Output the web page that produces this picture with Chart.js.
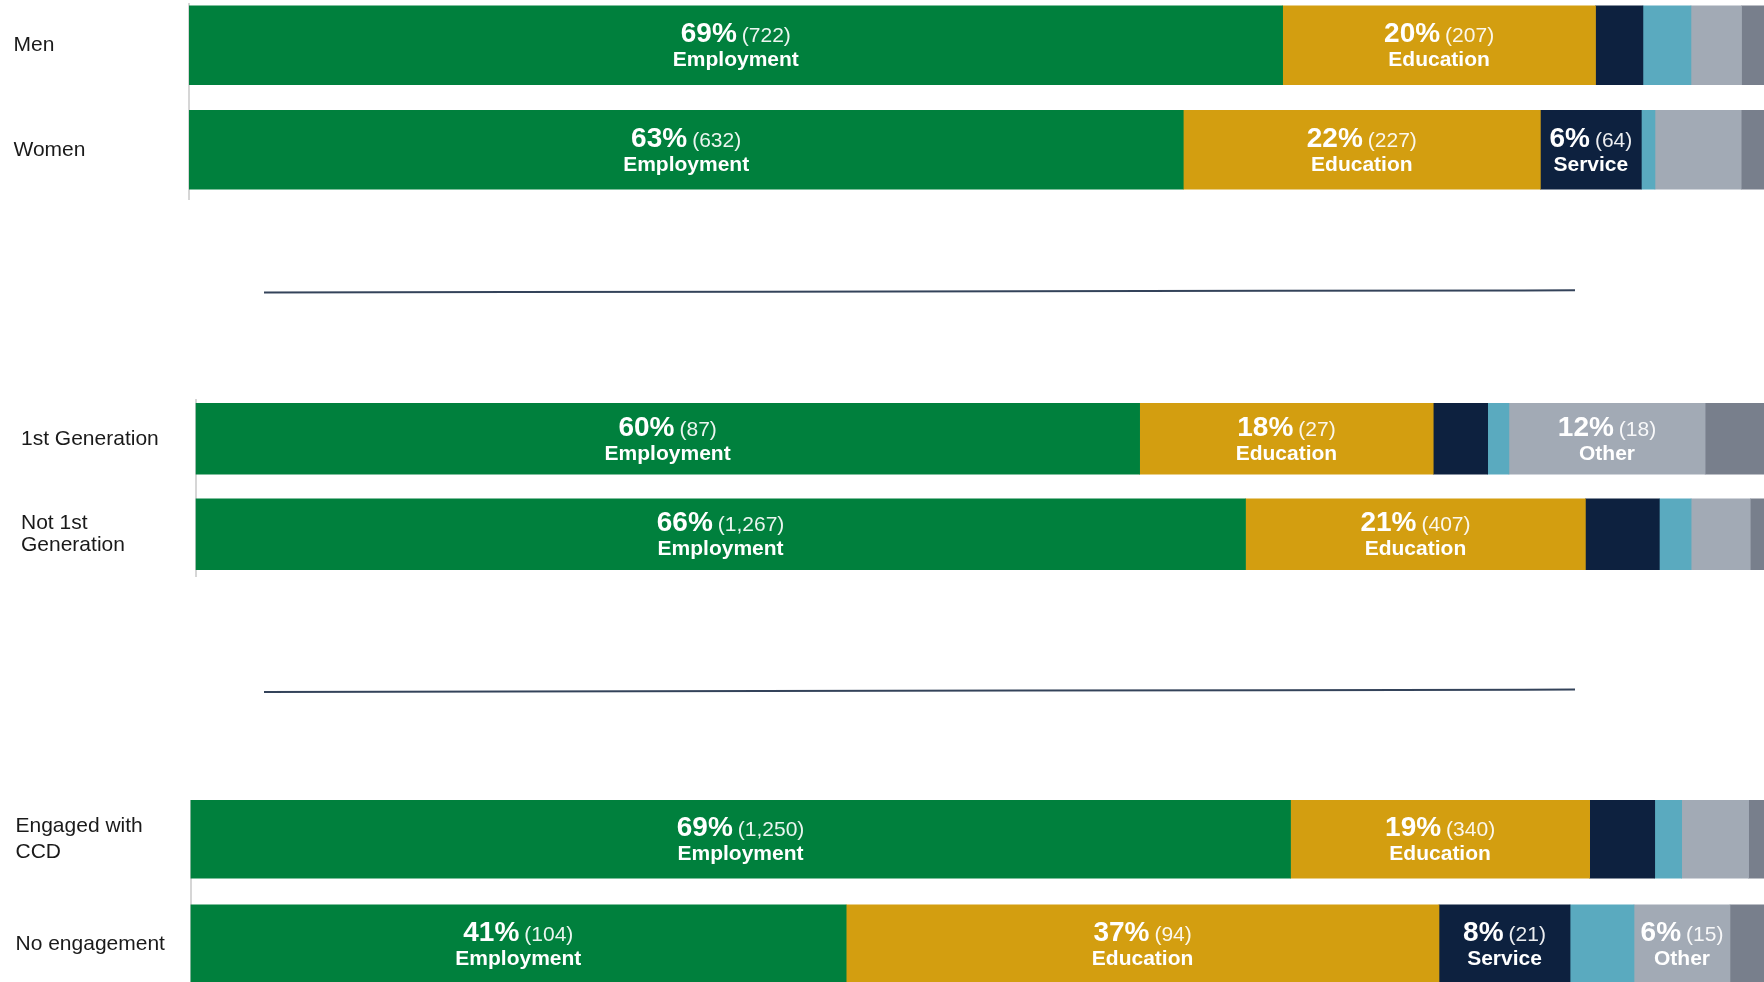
<!DOCTYPE html>
<html>
<head>
<meta charset="utf-8">
<script src="https://cdn.jsdelivr.net/npm/chart.js@4/dist/chart.umd.min.js"></script>
<style>
  html, body { margin: 0; padding: 0; background: #fff; overflow: hidden; }
  #page { position: relative; width: 1764px; height: 982px; overflow: hidden; }
  .grp { position: absolute; left: 0; width: 1764px; overflow: hidden; }
  .grp canvas { position: absolute; left: 0; }
  svg { position: absolute; left: 0; top: 0; }
</style>
</head>
<body>
<div id="page">
  <svg width="1764" height="982">
    <line x1="264" y1="292.5" x2="1575" y2="290.3" stroke="#34435a" stroke-width="2"/>
    <line x1="264" y1="691.9" x2="1575" y2="689.6" stroke="#34435a" stroke-width="2"/>
  </svg>
</div>
<script>
// categories (one per bar)
const categorias = ['Men', 'Women', '1st Generation', ['Not 1st', 'Generation'], ['Engaged with', 'CCD'], 'No engagement'];

// share of each bar (%)
const empleo    = [69.0, 62.73, 60.0, 66.73, 68.99, 41.12];
const educacion = [19.74, 22.53, 18.66, 21.6, 18.76, 37.18];
const servicio  = [2.99, 6.37, 3.46, 4.70, 4.08, 8.22];
const turquesa  = [3.03, 0.86, 1.35, 2.02, 1.69, 4.01];
const otro      = [3.19, 5.44, 12.47, 3.76, 4.20, 6.02];
const gris      = [2.05, 2.07, 4.06, 1.19, 2.28, 3.47];

// printed labels (null = no label on that segment)
const empleoPct    = ['69%', '63%', '60%', '66%', '69%', '41%'];
const empleoN      = ['(722)', '(632)', '(87)', '(1,267)', '(1,250)', '(104)'];
const educacionPct = ['20%', '22%', '18%', '21%', '19%', '37%'];
const educacionN   = ['(207)', '(227)', '(27)', '(407)', '(340)', '(94)'];
const servicioPct  = [null, '6%', null, null, null, '8%'];
const servicioN    = [null, '(64)', null, null, null, '(21)'];
const otroPct      = [null, null, '12%', null, null, '6%'];
const otroN        = [null, null, '(18)', null, null, '(15)'];

const series = [
  {nombre: 'Employment', data: empleo,    color: '#00803d', pct: empleoPct,    n: empleoN},
  {nombre: 'Education',  data: educacion, color: '#d39e10', pct: educacionPct, n: educacionN},
  {nombre: 'Service',    data: servicio,  color: '#0d213f', pct: servicioPct,  n: servicioN},
  {nombre: '',           data: turquesa,  color: '#5aaabf', pct: null,         n: null},
  {nombre: 'Other',      data: otro,      color: '#a2aab5', pct: otroPct,      n: otroN},
  {nombre: '',           data: gris,      color: '#787f8c', pct: null,         n: null}
];

// three panels, each with two bars
const grupos = [
  {filas: [0, 1], left: 189,   right: 1774,   top: -6.8,  alto: 209.3, clipTop: 3,   clipBottom: 200, grosor: 79, labelX: 13.5, lh: 1.1},
  {filas: [2, 3], left: 195.6, right: 1768.6, top: 390.8, alto: 190.5, clipTop: 399, clipBottom: 577, grosor: 71, labelX: 21,   lh: 1.05},
  {filas: [4, 5], left: 190.5, right: 1784.5, top: 786.7, alto: 208.6, clipTop: 800, clipBottom: 982, grosor: 78, labelX: 15.5, lh: 1.2}
];

const FUENTE = '"Liberation Sans", Arial, sans-serif';

const etiquetas = {
  id: 'etiquetas',
  afterDatasetsDraw(chart, args, opts) {
    const ctx = chart.ctx;
    const filas = opts.filas;
    ctx.save();
    chart.data.datasets.forEach((ds, i) => {
      const s = series[i];
      if (!s.pct) return;
      const meta = chart.getDatasetMeta(i);
      meta.data.forEach((el, j) => {
        const fila = filas[j];
        const pct = s.pct[fila];
        if (!pct) return;
        const cx = (el.x + el.base) / 2;
        const cy = el.y;
        ctx.fillStyle = '#ffffff';
        ctx.textBaseline = 'alphabetic';
        ctx.font = 'bold 28px ' + FUENTE;
        const w1 = ctx.measureText(pct).width;
        ctx.font = '21px ' + FUENTE;
        const w2 = ctx.measureText(s.n[fila]).width;
        const x0 = cx - (w1 + 5 + w2) / 2;
        ctx.textAlign = 'left';
        ctx.font = 'bold 28px ' + FUENTE;
        ctx.fillText(pct, x0, cy - 3);
        ctx.font = '21px ' + FUENTE;
        ctx.fillStyle = 'rgba(255,255,255,0.92)';
        ctx.fillText(s.n[fila], x0 + w1 + 5, cy - 3);
        ctx.fillStyle = '#ffffff';
        ctx.textAlign = 'center';
        ctx.font = 'bold 21px ' + FUENTE;
        ctx.fillText(s.nombre, cx, cy + 21);
      });
    });
    ctx.restore();
  }
};

const pagina = document.getElementById('page');

grupos.forEach(g => {
  const caja = document.createElement('div');
  caja.className = 'grp';
  caja.style.top = g.clipTop + 'px';
  caja.style.height = (g.clipBottom - g.clipTop) + 'px';
  const canvas = document.createElement('canvas');
  const ancho = Math.round(g.right);
  const alto = Math.round(g.alto);
  canvas.width = ancho;
  canvas.height = alto;
  canvas.style.width = ancho + 'px';
  canvas.style.height = alto + 'px';
  canvas.style.top = (g.top - g.clipTop) + 'px';
  caja.appendChild(canvas);
  pagina.appendChild(caja);

  new Chart(canvas.getContext('2d'), {
    type: 'bar',
    data: {
      labels: g.filas.map(f => categorias[f]),
      datasets: series.map(s => ({
        label: s.nombre,
        data: g.filas.map(f => s.data[f]),
        backgroundColor: s.color,
        borderWidth: 0,
        barThickness: g.grosor
      }))
    },
    options: {
      indexAxis: 'y',
      responsive: false,
      animation: false,
      layout: {padding: {left: g.labelX, right: 0, top: 0, bottom: 0}},
      scales: {
        x: {stacked: true, display: false, min: 0, max: 100},
        y: {
          stacked: true,
          grid: {display: false, drawTicks: false},
          border: {display: true, color: '#d6d6d6', width: 2},
          ticks: {
            crossAlign: 'far',
            padding: 0,
            color: '#1a1a1a',
            font: {family: FUENTE, size: 21, lineHeight: g.lh}
          },
          afterFit(scale) {
            scale.width = g.left - g.labelX;
            scale.paddingTop = 0;
            scale.paddingBottom = 0;
          }
        }
      },
      plugins: {
        legend: {display: false},
        tooltip: {enabled: false},
        etiquetas: {filas: g.filas}
      }
    },
    plugins: [etiquetas]
  });
});
</script>
</body>
</html>
